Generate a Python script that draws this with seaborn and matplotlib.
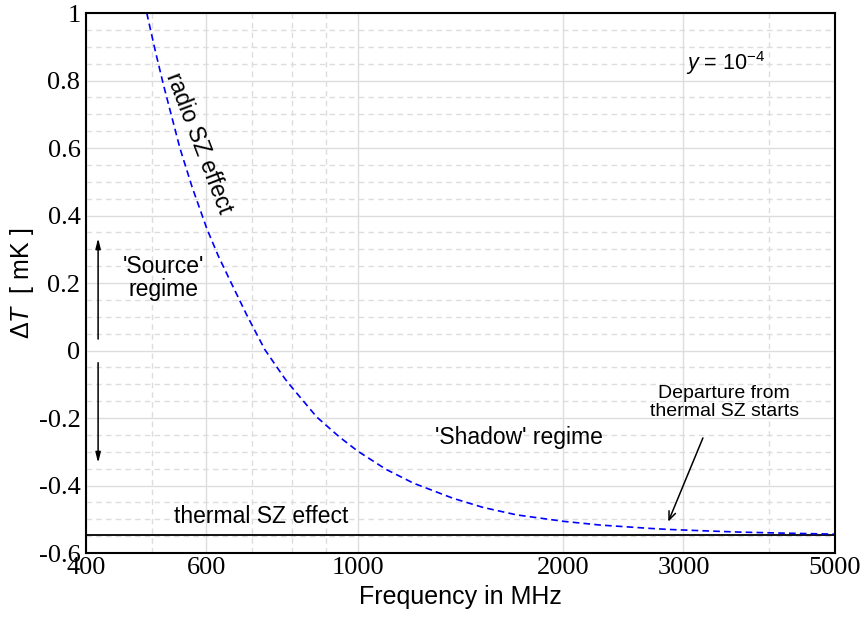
import numpy as np
import pandas as pd
import seaborn as sns
import matplotlib.pyplot as plt
from matplotlib.ticker import FixedLocator, NullFormatter, MultipleLocator

# values
freq_mhz = [491, 505, 519, 533, 549, 572, 601, 625, 650, 688, 731, 782, 800,
            871, 940, 1000, 1100, 1207, 1380, 1527, 1710, 2000, 2263, 2679,
            2847, 3200, 3630, 4200, 5000]
delta_t = [1.00, 0.89, 0.79, 0.70, 0.60, 0.485, 0.362, 0.28, 0.208, 0.105,
           0.003, -0.083, -0.108, -0.197, -0.256, -0.298, -0.352, -0.393,
           -0.438, -0.465, -0.487, -0.506, -0.517, -0.527, -0.530, -0.534,
           -0.538, -0.541, -0.544]
thermal_freq = [400, 5000]
thermal_dt = [-0.548, -0.548]

x_major = [400, 600, 1000, 2000, 3000, 5000]
x_minor = [500, 700, 800, 900, 4000]
y_major = [-0.6, -0.4, -0.2, 0, 0.2, 0.4, 0.6, 0.8, 1.0]
y_labels = ['-0.6', '-0.4', '-0.2', '0', '0.2', '0.4', '0.6', '0.8', '1']

sns.set_style("white", rc={'text.color': 'black', 'axes.labelcolor': 'black',
                           'xtick.color': 'black', 'ytick.color': 'black'})
plt.rcParams['font.family'] = ['Liberation Sans', 'DejaVu Sans']
plt.rcParams['mathtext.fontset'] = 'custom'
plt.rcParams['mathtext.rm'] = 'Liberation Sans'
plt.rcParams['mathtext.it'] = 'Liberation Sans:italic'

radio = pd.DataFrame({'freq': freq_mhz, 'dT': delta_t})
thermal = pd.DataFrame({'freq': thermal_freq, 'dT': thermal_dt})

fig = plt.figure(figsize=(8.65, 6.2), dpi=100)
ax = fig.add_axes([0.0994, 0.108, 0.8659, 0.871])
ax.set_xscale('log')

sns.lineplot(data=thermal, x='freq', y='dT', color='black', lw=1.3, ax=ax,
             sort=False, estimator=None)
sns.lineplot(data=radio, x='freq', y='dT', color='#0000ff', lw=1.2, ax=ax,
             sort=False, estimator=None, linestyle=(0, (4, 2.5)))

ax.set_xlim(400, 5000)
ax.set_ylim(-0.6, 1.0)

ax.xaxis.set_major_locator(FixedLocator(x_major))
ax.xaxis.set_minor_locator(FixedLocator(x_minor))
ax.xaxis.set_minor_formatter(NullFormatter())
ax.set_xticklabels([str(v) for v in x_major], family='Liberation Serif', fontsize=19)
ax.set_yticks(y_major)
ax.set_yticklabels(y_labels, family='Liberation Serif', fontsize=19)
ax.yaxis.set_minor_locator(MultipleLocator(0.05))

ax.grid(which='major', color='#dddddd', lw=1.0, ls='-')
ax.grid(which='minor', color='#dddddd', lw=1.0, ls=(0, (4, 3)))
ax.set_axisbelow(True)
ax.tick_params(which='major', direction='in', length=6, width=0.8, color='#555555', pad=4)
ax.tick_params(which='minor', direction='in', length=4, width=0.8, color='#777777')
ax.tick_params(axis='x', which='major', pad=3)
for s in ax.spines.values():
    s.set_color('black')
    s.set_linewidth(1.5)

ax.set_xlabel('Frequency in MHz', fontsize=18, labelpad=4)
ax.set_ylabel('Δ$T$  [ mK ]', fontsize=18, labelpad=2)

ax.text(585, 0.615, 'radio SZ effect', fontsize=16.5, rotation=-69,
        rotation_mode='anchor', ha='center', va='center')
ax.text(519, 0.215, "'Source'\nregime", fontsize=16.5, ha='center', va='center',
        linespacing=1.05)
ax.text(1723, -0.259, "'Shadow' regime", fontsize=16.5, ha='center', va='center')
ax.text(721, -0.493, 'thermal SZ effect', fontsize=16.5, ha='center', va='center')
ax.text(3440, -0.153, 'Departure from\nthermal SZ starts', fontsize=14,
        ha='center', va='center', linespacing=1.1)
ax.text(3462, 0.852, '$y$ = 10$^{-4}$', fontsize=15.5, ha='center', va='center')

ax.annotate('', xy=(2850, -0.507), xytext=(3203, -0.259),
            arrowprops=dict(arrowstyle='->,head_length=0.6,head_width=0.25',
                            color='black', lw=1.1, shrinkA=0, shrinkB=0))
ax.annotate('', xy=(416.7, 0.333), xytext=(416.7, 0.034),
            arrowprops=dict(arrowstyle='-|>,head_length=0.6,head_width=0.15',
                            color='black', lw=1.1, shrinkA=0, shrinkB=0))
ax.annotate('', xy=(416.7, -0.333), xytext=(416.7, -0.036),
            arrowprops=dict(arrowstyle='-|>,head_length=0.6,head_width=0.15',
                            color='black', lw=1.1, shrinkA=0, shrinkB=0))

plt.savefig('out.png', dpi=100)
